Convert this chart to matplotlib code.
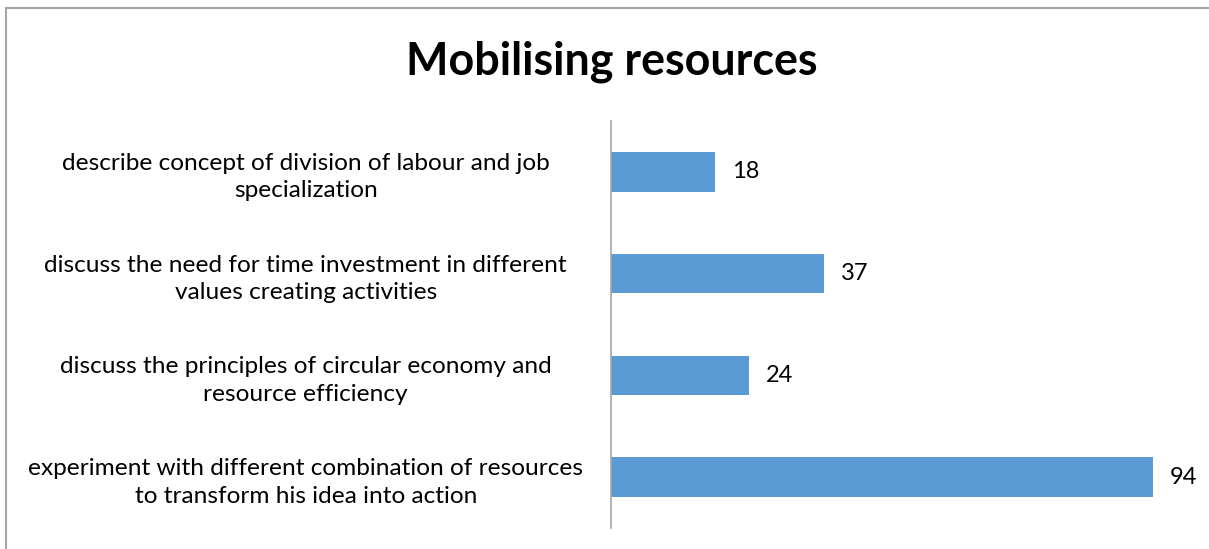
import matplotlib.pyplot as plt
from matplotlib.patches import Rectangle

categories = [
    "describe concept of division of labour and job\nspecialization",
    "discuss the need for time investment in different\nvalues creating activities",
    "discuss the principles of circular economy and\nresource efficiency",
    "experiment with different combination of resources\nto transform his idea into action",
]
values = [18, 37, 24, 94]

plt.rcParams['font.family'] = ['Lato', 'DejaVu Sans']

fig = plt.figure(figsize=(12.09, 5.49), dpi=100)
W, H = 1209, 549

# outer chart frame (right/bottom edges run off the canvas)
fig.patches.append(Rectangle((6 / W, -0.1), 1.2, (H - 8) / H + 0.1, transform=fig.transFigure,
                             fill=False, edgecolor='#a6a6a6', linewidth=1.5))

ax = fig.add_axes([611 / W, (H - 528) / H, 577 / W, 407 / H])
pos = list(range(len(values)))
ax.barh(pos, values, height=0.39, color='#5b9bd5')
ax.set_xlim(0, 100)
ax.set_ylim(len(values) - 0.5, -0.5)

for p, v in zip(pos, values):
    ax.text(v + 2.9, p, str(v), va='center', ha='left', fontsize=17, color='#000000')

ax.set_yticks(pos)
ax.set_yticklabels(categories, fontsize=17.6, ha='center', linespacing=1.38)
ax.tick_params(axis='y', length=0, pad=0)
for lbl in ax.get_yticklabels():
    lbl.set_x(-0.529)
ax.set_xticks([])
for s in ['top', 'right', 'bottom']:
    ax.spines[s].set_visible(False)
ax.spines['left'].set_color('#a6a6a6')
ax.spines['left'].set_linewidth(1.2)

fig.text(612 / W, (H - 62) / H, "Mobilising resources", ha='center', va='center',
         fontsize=32.3, fontweight='bold')

fig.savefig('out.png', dpi=100)
